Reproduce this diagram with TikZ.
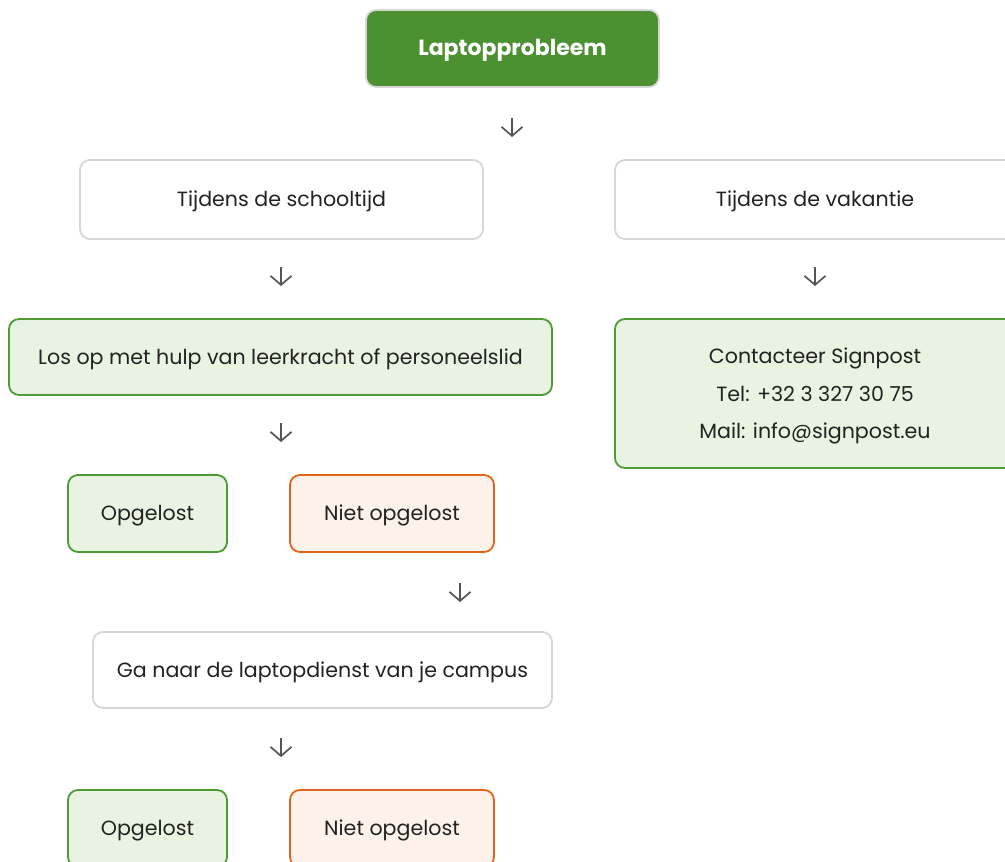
\documentclass[tikz,border=0pt]{standalone}
\usepackage{fontspec}
\setmainfont{Poppins}
\usetikzlibrary{arrows.meta}
\definecolor{titlegreen}{HTML}{4B9131}
\definecolor{lgreen}{HTML}{E8F3E1}
\definecolor{bgreen}{HTML}{4E9A35}
\definecolor{lorange}{HTML}{FDF2EA}
\definecolor{borange}{HTML}{E0661E}
\definecolor{bgray}{HTML}{D6D6D6}
\definecolor{txt}{HTML}{222222}
\definecolor{arrgray}{HTML}{555555}
\tikzset{
  base/.style={rounded corners=10pt, line width=1.8pt, inner sep=0pt, align=center, text=txt, font=\fontsize{20.6}{37.5}\selectfont},
  oneline/.style={text height=14pt, text depth=0pt},
  titlebox/.style={base, oneline, draw=bgray, fill=titlegreen, text=white, font=\fontsize{22}{26}\selectfont\bfseries},
  whitebox/.style={base, oneline, draw=bgray, fill=white},
  greenbox/.style={base, oneline, draw=bgreen, fill=lgreen},
  contactbox/.style={base, draw=bgreen, fill=lgreen},
  plaintext/.style={inner sep=0pt, align=center, text=txt, font=\fontsize{20.6}{37.5}\selectfont},
  orangebox/.style={base, oneline, draw=borange, fill=lorange},
  downarr/.style={draw=arrgray, line width=1.7pt, -{Straight Barb[length=9pt,width=21pt,line width=1.7pt]}},
}
\begin{document}
\begin{tikzpicture}[x=1pt,y=-1pt]
\useasboundingbox (0,0) rectangle (1005,862);
\node[titlebox, minimum width=293pt, minimum height=77pt] (top) at (512.5,48.5) {Laptopprobleem};
\node[whitebox, minimum width=403pt, minimum height=79pt] (school) at (281.5,199.5) {Tijdens de schooltijd};
\node[whitebox, minimum width=400pt, minimum height=79pt] (vak) at (815,199.5) {Tijdens de vakantie};
\node[greenbox, minimum width=543pt, minimum height=76pt] (los) at (280.5,357) {Los op met hulp van leerkracht of personeelslid};
\node[contactbox, minimum width=400pt, minimum height=149pt] (contact) at (815,393.5) {};
\node[plaintext] (contacttxt) at ([yshift=-2.5pt]contact.center) {Contacteer Signpost\\Tel: +32 3 327 30 75\\Mail: info@signpost.eu};
\node[greenbox, minimum width=159pt, minimum height=77pt] (ok1) at (147.5,513.5) {Opgelost};
\node[orangebox, minimum width=204pt, minimum height=77pt] (nok1) at (392,513.5) {Niet opgelost};
\node[whitebox, minimum width=459pt, minimum height=76pt] (dienst) at (322.5,670) {Ga naar de laptopdienst van je campus};
\node[greenbox, minimum width=159pt, minimum height=77pt] (ok2) at (147.5,828.5) {Opgelost};
\node[orangebox, minimum width=204pt, minimum height=77pt] (nok2) at (392,828.5) {Niet opgelost};
\coordinate (a1s) at (512,118); \coordinate (a1e) at (512,137);
\coordinate (a2s) at (281,267); \coordinate (a2e) at (281,286);
\coordinate (a3s) at (815,267); \coordinate (a3e) at (815,286);
\coordinate (a4s) at (281,423); \coordinate (a4e) at (281,442);
\coordinate (a5s) at (460,583); \coordinate (a5e) at (460,602);
\coordinate (a6s) at (281,738); \coordinate (a6e) at (281,757);
\foreach \i in {1,...,6} {\draw[downarr] (a\i s) -- (a\i e);}
\end{tikzpicture}
\end{document}
